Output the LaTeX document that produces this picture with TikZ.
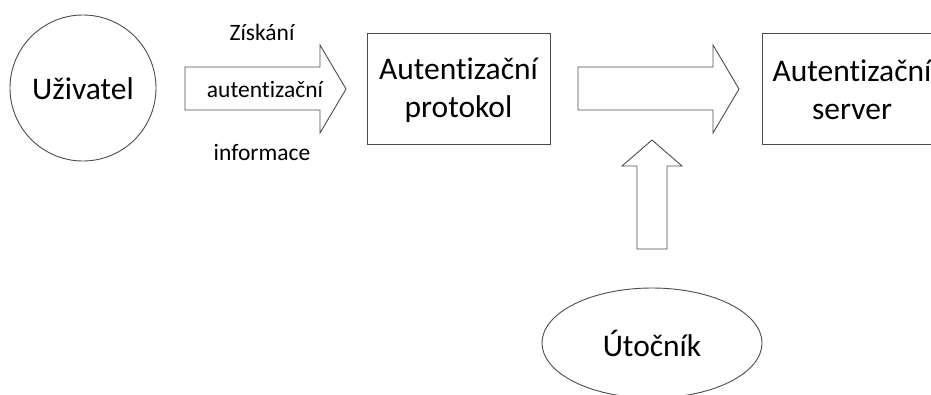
\documentclass[tikz,border=0pt]{standalone}
\usepackage{fontspec}
\setmainfont{Carlito}[Ligatures=NoCommon]
\begin{document}
\begin{tikzpicture}[x=1pt,y=-1pt,
  shapeline/.style={draw=black!70,line width=0.9pt},
  bigtxt/.style={font=\fontsize{31.5}{38}\selectfont,align=center,inner sep=0pt},
  smalltxt/.style={font=\fontsize{23.5}{28}\selectfont,inner sep=0pt}]
\useasboundingbox (0,0) rectangle (931,394);
\clip (0,0) rectangle (931,394);
% user circle
\node[shapeline,circle,minimum size=146pt,inner sep=0pt] (user) at (83,88) {};
\node[bigtxt] (usertxt) at (83,89) {Uživatel};
% arrow 1
\draw[shapeline] (185,67) -- (320,67) -- (320,45) -- (346,89) -- (320,133) -- (320,110) -- (185,110) -- cycle;
\node[smalltxt] (l1) at (262,32) {Získání};
\node[smalltxt] (l2) at (265,89) {autentizační};
\node[smalltxt] (l3) at (262,152) {informace};
% protocol box
\node[shapeline,rectangle,minimum width=183pt,minimum height=111pt] (proto) at (458.5,88.5) {};
\node[bigtxt] (prototxt) at (458.5,90) {Autentizační\\protokol};
% arrow 2
\draw[shapeline] (578,67) -- (713,67) -- (713,45) -- (739,89) -- (713,133) -- (713,110) -- (578,110) -- cycle;
% server box (clipped at right)
\node[shapeline,rectangle,minimum width=180pt,minimum height=111pt] (server) at (852,88.5) {};
\node[bigtxt] (servertxt) at (852,90) {Autentizační\\server};
% up arrow
\draw[shapeline] (637,249) -- (637,166) -- (622,166) -- (652,140) -- (682,166) -- (667,166) -- (667,249) -- cycle;
% attacker ellipse
\draw[shapeline] (652,343) ellipse [x radius=110, y radius=55];
\node[bigtxt] (att) at (652,343) {Útočník};
\end{tikzpicture}
\end{document}
